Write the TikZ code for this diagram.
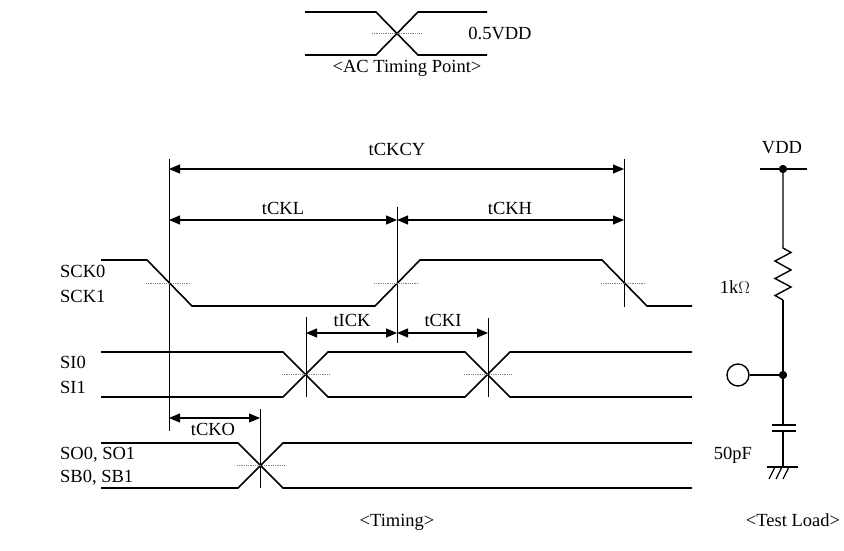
\documentclass[tikz,border=0pt]{standalone}
\usepackage{fontspec}
\setmainfont{Liberation Serif}
\usetikzlibrary{arrows.meta}
\begin{document}
\begin{tikzpicture}[x=1pt,y=-1pt,
  wave/.style={line width=1.6pt},
  marker/.style={line width=1pt},
  thr/.style={gray, line width=0.7pt, dash pattern=on 1pt off 0.8pt},
  dim/.style={line width=1.2pt, {Triangle[length=11pt,width=9pt]}-{Triangle[length=11pt,width=9pt]}},
  lbl/.style={font=\fontsize{18.5}{20}\selectfont, inner sep=0pt},
  circ/.style={line width=1.4pt},
  dotnode/.style={circle, fill=black, inner sep=0pt, minimum size=8pt},
  opennode/.style={circle, draw=black, line width=1.4pt, fill=white, inner sep=0pt, minimum size=22pt},
]
\useasboundingbox (0,0) rectangle (844,551);

% ---------- AC timing point ----------
\draw[wave] (305,12) -- (376,12) -- (418,55) -- (487,55);
\draw[wave] (305,55) -- (376,55) -- (418,12) -- (487,12);
\draw[thr] (372,33.5) -- (422,33.5);
\node[lbl] (acv) at (500,33) {0.5VDD};
\node[lbl] (act) at (407,68) {<AC Timing Point>};

% ---------- marker coordinates ----------
\coordinate (aT) at (169,159);  \coordinate (aB) at (169,431);
\coordinate (bT) at (397,207);  \coordinate (bB) at (397,343);
\coordinate (cT) at (624,159);  \coordinate (cB) at (624,307);
\coordinate (dT) at (306,317);  \coordinate (dB) at (306,397);
\coordinate (eT) at (488,318);  \coordinate (eB) at (488,397);
\coordinate (fT) at (260,409);  \coordinate (fB) at (260,488);
\draw[marker] (aT) -- (aB);
\draw[marker] (bT) -- (bB);
\draw[marker] (cT) -- (cB);
\draw[marker] (dT) -- (dB);
\draw[marker] (eT) -- (eB);
\draw[marker] (fT) -- (fB);

% ---------- dimension arrows ----------
\coordinate (cy1) at (169,169); \coordinate (cy2) at (624,169);
\coordinate (l1) at (169,220);  \coordinate (l2) at (397,220); \coordinate (l3) at (624,220);
\coordinate (i1) at (306,333);  \coordinate (i2) at (397,333); \coordinate (i3) at (488,333);
\coordinate (o1) at (169,418);  \coordinate (o2) at (260,418);
\draw[dim] (cy1) -- (cy2);
\draw[dim] (l1) -- (l2);
\draw[dim] (l2) -- (l3);
\draw[dim] (i1) -- (i2);
\draw[dim] (i2) -- (i3);
\draw[dim] (o1) -- (o2);
\node[lbl] (tckcy) at (397,149) {tCKCY};
\node[lbl] (tckl) at (283,208) {tCKL};
\node[lbl] (tckh) at (510,208) {tCKH};
\node[lbl] (tick) at (352,320) {tICK};
\node[lbl] (tcki) at (443,320) {tCKI};
\node[lbl] (tcko) at (213,429) {tCKO};

% ---------- SCK ----------
\draw[wave] (101,260) -- (147,260) -- (192,306) -- (375,306) -- (420,260) -- (602,260) -- (647,306) -- (692,306);
\draw[thr] (146,283) -- (191,283);
\draw[thr] (374,283) -- (419,283);
\draw[thr] (601,283) -- (646,283);

% ---------- SI ----------
\draw[wave] (101,352) -- (283,352) -- (328,397) -- (465,397) -- (510,352) -- (692,352);
\draw[wave] (101,397) -- (283,397) -- (328,352) -- (465,352) -- (510,397) -- (692,397);
\draw[thr] (282,374.5) -- (329,374.5);
\draw[thr] (464,374.5) -- (511,374.5);

% ---------- SO ----------
\draw[wave] (101,443) -- (238,443) -- (283,488) -- (692,488);
\draw[wave] (101,488) -- (238,488) -- (283,443) -- (692,443);
\draw[thr] (237,465.5) -- (284,465.5);

% ---------- signal labels ----------
\node[lbl, anchor=west] (sck0) at (60,271) {SCK0};
\node[lbl, anchor=west] (sck1) at (60,296) {SCK1};
\node[lbl, anchor=west] (si0) at (60,362) {SI0};
\node[lbl, anchor=west] (si1) at (60,387) {SI1};
\node[lbl, anchor=west] (so) at (60,455) {SO0, SO1};
\node[lbl, anchor=west] (sb) at (60,478) {SB0, SB1};
\node[lbl] (timing) at (397,522) {<Timing>};

% ---------- test load ----------
\node[lbl] (vdd) at (782,148) {VDD};
\coordinate (vl) at (760,169); \coordinate (vr) at (807,169);
\draw[circ] (vl) -- (vr);
\node[dotnode] (vdot) at (783,169) {};
\coordinate (r1) at (783,248); \coordinate (r2) at (783,300);
\draw[circ] (vdot.center) -- (r1)
  -- (791,252.5) -- (775,261) -- (791,270) -- (775,278.5) -- (791,287) -- (775,295.5)
  -- (r2);
\node[dotnode] (ndot) at (783,375) {};
\node[opennode] (out) at (738,375) {};
\draw[circ] (r2) -- (ndot.center);
\draw[circ] (out) -- (ndot.center);
\coordinate (c1) at (783,425); \coordinate (c2) at (783,431);
\draw[circ] (ndot.center) -- (c1);
\draw[circ] (772,425) -- (796,425);
\draw[circ] (772,431) -- (796,431);
\coordinate (gnd) at (783,467);
\draw[circ] (c2) -- (gnd);
\draw[circ] (767,467) -- (798,467);
\draw[line width=1.2pt] (775,467) -- (769,479);
\draw[line width=1.2pt] (782,467) -- (776,479);
\draw[line width=1.2pt] (789,467) -- (783,479);
\node[dotnode] at (783,169) {};
\node[dotnode] at (783,375) {};
\node[lbl] (rlab) at (735,287) {1k$\Omega$};
\node[lbl] (clab) at (733,455) {50pF};
\node[lbl] (tl) at (793,520) {<Test Load>};
\end{tikzpicture}
\end{document}
